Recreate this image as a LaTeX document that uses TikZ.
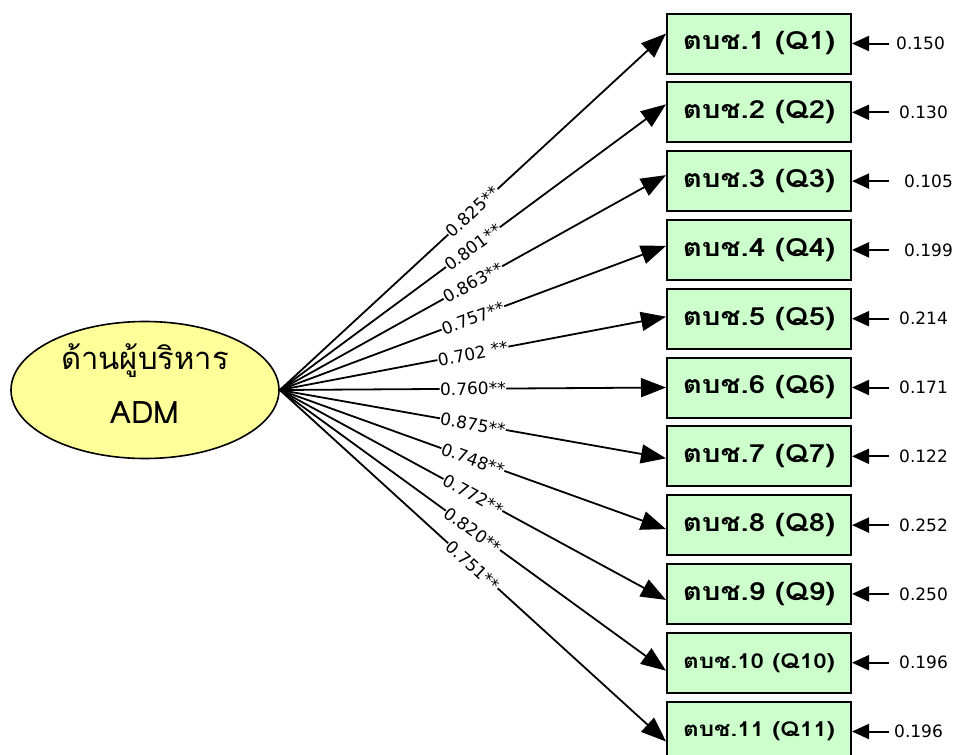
\documentclass[tikz,border=0pt]{standalone}
\usepackage{fontspec}
\setmainfont{Loma}[Script=Thai]
\newfontfamily\itemfont[Script=Thai, FakeStretch=1.18]{Loma}
\newfontfamily\numfont{DejaVu Sans}
\usetikzlibrary{arrows.meta,shapes.geometric}
\definecolor{latentfill}{HTML}{FFFF99}
\definecolor{itemfill}{HTML}{CCFFCC}
\tikzset{
  latent/.style={ellipse, draw, line width=1.6pt, fill=latentfill, inner sep=0pt,
    minimum width=268pt, minimum height=137pt, align=center,
    font=\fontsize{31}{57}\selectfont},
  item/.style={rectangle, draw, line width=2pt, fill=itemfill,
    minimum width=184pt, minimum height=60pt, font=\itemfont\bfseries\fontsize{25}{28}\selectfont},
  itemsmall/.style={item, font=\itemfont\bfseries\fontsize{20.5}{24}\selectfont},
  loading/.style={-{Triangle[length=25pt,width=19pt]}, line width=1.8pt},
  errarrow/.style={-{Triangle[length=17pt,width=15pt]}, line width=2pt},
  coef/.style={font=\numfont\fontsize{17}{18}\selectfont, fill=white, inner sep=0.5pt, sloped},
  errlabel/.style={anchor=west, font=\numfont\fontsize{17}{18}\selectfont, inner sep=0pt}
}
\begin{document}
\begin{tikzpicture}[x=1pt, y=-1pt]
  \useasboundingbox (0,0) rectangle (956,755);
  \node[latent] (adm) at (145,390) {ด้านผู้บริหาร\\[-3pt]ADM\rule[-12pt]{0pt}{0pt}};
  % observed items
  \foreach \i in {1,...,9}
    \node[item] (q\i) at (759,{43.5+68.8*(\i-1)}) {ตบช.\i{} (Q\i)};
  \node[itemsmall] (q10) at (759,{43.5+68.8*9}) {ตบช.10 (Q10)};
  \node[itemsmall] (q11) at (759,{43.5+68.8*10}) {ตบช.11 (Q11)};
  % loadings
  \foreach \i/\v in {1/0.825**, 2/0.801**, 3/0.863**, 4/0.757**, 5/0.702 **, 6/0.760**,
                     7/0.875**, 8/0.748**, 9/0.772**, 10/0.820**, 11/0.751**}
    \draw[loading] (adm.east) -- node[coef]{\v} ([yshift={(6-\i)*2pt}]q\i.west);
  % errors
  \foreach \i/\e/\s in {1/0.150/7, 2/0.130/10, 3/0.105/15, 4/0.199/15, 5/0.214/10, 6/0.171/10,
                        7/0.122/10, 8/0.252/10, 9/0.250/10, 10/0.196/10, 11/0.196/5}{
    \coordinate (e\i) at ([xshift=37pt]q\i.east);
    \draw[errarrow] (e\i) -- (q\i.east);
    \node[errlabel] (el\i) at ([xshift=\s pt]e\i) {\e};
  }
\end{tikzpicture}
\end{document}
